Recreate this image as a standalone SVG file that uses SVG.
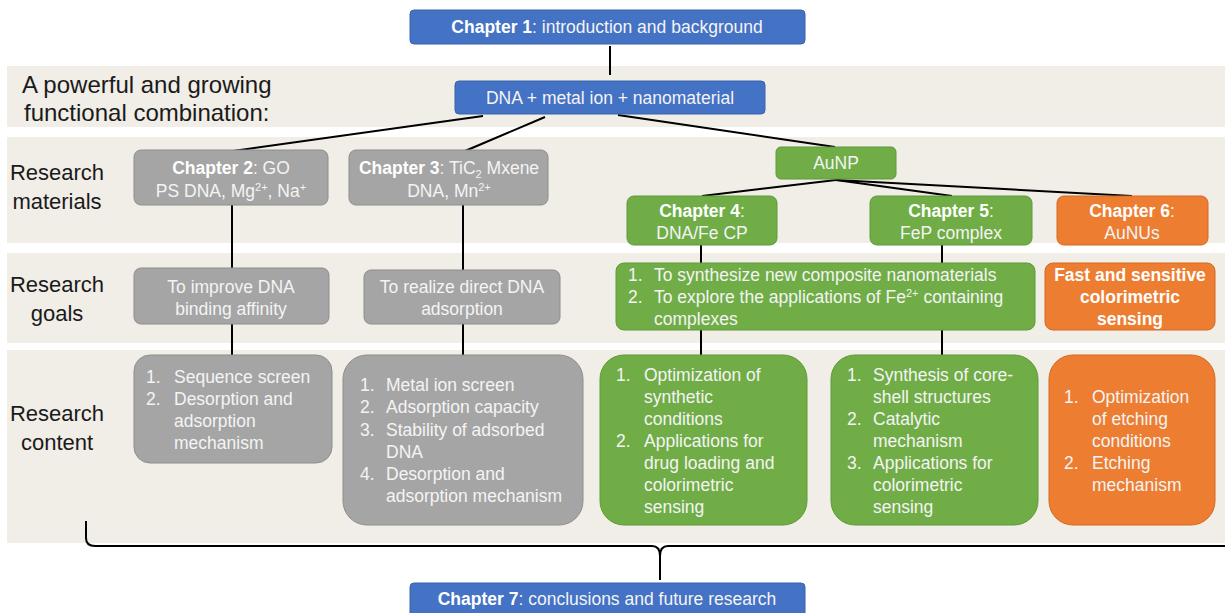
<svg xmlns="http://www.w3.org/2000/svg" width="1225" height="613" viewBox="0 0 1225 613">
<style>
text{font-family:"Liberation Sans","Noto Sans",Arial,sans-serif;}
.band{fill:#F1EDE7;}
.lbl{font-size:22px;fill:#1a1a1a;}
.big{font-size:24px;}
.bt{font-size:17.5px;fill:#F4F4F4;}
.b{font-weight:bold;fill:#FFFFFF;}
.blue{fill:#4472C4;stroke:#3A63AD;stroke-width:1;}
.gray{fill:#A5A5A5;stroke:#8E8E8E;stroke-width:1;}
.green{fill:#70AD47;stroke:#5E9A38;stroke-width:1;}
.orange{fill:#ED7D31;stroke:#D46A22;stroke-width:1;}
.ln{stroke:#000;stroke-width:2;fill:none;}
.sup{font-size:11px;}
</style>
<rect width="1225" height="613" fill="#FFFFFF"/>
<g id="bands">
<rect class="band" x="7" y="66" width="1218" height="61"/>
<rect class="band" x="7" y="137" width="1218" height="106"/>
<rect class="band" x="7" y="253" width="1218" height="90"/>
<rect class="band" x="7" y="350" width="1218" height="193"/>
</g>
<g id="row-labels">
<text class="lbl big" x="22" y="93">A powerful and growing</text>
<text class="lbl big" x="24" y="121">functional combination:</text>
<text class="lbl" x="57" y="180" text-anchor="middle">Research</text>
<text class="lbl" x="57" y="209" text-anchor="middle">materials</text>
<text class="lbl" x="57" y="292" text-anchor="middle">Research</text>
<text class="lbl" x="57" y="321" text-anchor="middle">goals</text>
<text class="lbl" x="57" y="421" text-anchor="middle">Research</text>
<text class="lbl" x="57" y="450" text-anchor="middle">content</text>
</g>
<g id="connectors">
<line class="ln" x1="610" y1="46" x2="610" y2="75"/>
<line class="ln" x1="483" y1="116" x2="233" y2="151"/>
<line class="ln" x1="545" y1="117" x2="465" y2="151"/>
<line class="ln" x1="618" y1="115" x2="835" y2="147"/>
<line class="ln" x1="836" y1="180" x2="702" y2="196"/>
<line class="ln" x1="836" y1="180" x2="952" y2="196"/>
<line class="ln" x1="836" y1="180" x2="1132" y2="196"/>
<line class="ln" x1="232" y1="205" x2="232" y2="268"/>
<line class="ln" x1="463" y1="205" x2="463" y2="270"/>
<line class="ln" x1="701" y1="245" x2="701" y2="263"/>
<line class="ln" x1="942" y1="245" x2="942" y2="263"/>
<line class="ln" x1="232" y1="324" x2="232" y2="355"/>
<line class="ln" x1="463" y1="324" x2="463" y2="355"/>
<line class="ln" x1="701" y1="330" x2="701" y2="355"/>
<line class="ln" x1="942" y1="330" x2="942" y2="355"/>
<path class="ln" d="M86 521 V538 Q86 546 95 546 H652 Q660 546 660 556 V580 M660 556 Q660 546 668 546 H1226"/>
</g>
<g id="ch1">
<rect class="blue" x="410" y="10" width="395" height="34" rx="4"/>
<text class="bt" x="607" y="33" text-anchor="middle"><tspan class="b">Chapter 1</tspan>: introduction and background</text>
</g>
<g id="combo">
<rect class="blue" x="455" y="81" width="310" height="33" rx="4"/>
<text class="bt" x="610" y="104" text-anchor="middle">DNA + metal ion + nanomaterial</text>
</g>
<g id="ch2">
<rect class="gray" x="134" y="150" width="194" height="55" rx="7"/>
<text class="bt" x="231" y="174" text-anchor="middle"><tspan class="b">Chapter 2</tspan>: GO</text>
<text class="bt" x="231" y="197" text-anchor="middle">PS DNA, Mg<tspan class="sup" dy="-6">2+</tspan><tspan dy="6">, Na</tspan><tspan class="sup" dy="-6">+</tspan></text>
</g>
<g id="ch3">
<rect class="gray" x="349" y="150" width="199" height="55" rx="7"/>
<text class="bt" x="449" y="174" text-anchor="middle"><tspan class="b">Chapter 3</tspan>: TiC<tspan class="sup" dy="4">2</tspan><tspan dy="-4"> Mxene</tspan></text>
<text class="bt" x="449" y="197" text-anchor="middle">DNA, Mn<tspan class="sup" dy="-6">2+</tspan></text>
</g>
<g id="aunp">
<rect class="green" x="776" y="147" width="120" height="32" rx="5"/>
<text class="bt" x="836" y="169" text-anchor="middle">AuNP</text>
</g>
<g id="ch4">
<rect class="green" x="627" y="196" width="150" height="49" rx="7"/>
<text class="bt" x="702" y="217" text-anchor="middle"><tspan class="b">Chapter 4</tspan>:</text>
<text class="bt" x="702" y="239" text-anchor="middle">DNA/Fe CP</text>
</g>
<g id="ch5">
<rect class="green" x="870" y="196" width="162" height="49" rx="7"/>
<text class="bt" x="951" y="217" text-anchor="middle"><tspan class="b">Chapter 5</tspan>:</text>
<text class="bt" x="951" y="239" text-anchor="middle">FeP complex</text>
</g>
<g id="ch6">
<rect class="orange" x="1057" y="196" width="151" height="49" rx="7"/>
<text class="bt" x="1132" y="217" text-anchor="middle"><tspan class="b">Chapter 6</tspan>:</text>
<text class="bt" x="1132" y="239" text-anchor="middle">AuNUs</text>
</g>
<g id="goal2">
<rect class="gray" x="134" y="268" width="195" height="56" rx="7"/>
<text class="bt" x="231" y="293" text-anchor="middle">To improve DNA</text>
<text class="bt" x="231" y="315" text-anchor="middle">binding affinity</text>
</g>
<g id="goal3">
<rect class="gray" x="364" y="270" width="196" height="54" rx="7"/>
<text class="bt" x="462" y="293" text-anchor="middle">To realize direct DNA</text>
<text class="bt" x="462" y="315" text-anchor="middle">adsorption</text>
</g>
<g id="goal45">
<rect class="green" x="616" y="263" width="419" height="67" rx="8"/>
<text class="bt" x="628" y="281">1.</text>
<text class="bt" x="654" y="281">To synthesize new composite nanomaterials</text>
<text class="bt" x="628" y="303">2.</text>
<text class="bt" x="654" y="303">To explore the applications of Fe<tspan class="sup" dy="-6">2+</tspan><tspan dy="6"> containing</tspan></text>
<text class="bt" x="654" y="325">complexes</text>
</g>
<g id="goal6">
<rect class="orange" x="1045" y="263" width="170" height="67" rx="8"/>
<text class="bt b" x="1130" y="281" text-anchor="middle">Fast and sensitive</text>
<text class="bt b" x="1130" y="303" text-anchor="middle">colorimetric</text>
<text class="bt b" x="1130" y="325" text-anchor="middle">sensing</text>
</g>
<g id="content2">
<rect class="gray" x="134" y="355" width="198" height="108" rx="16"/>
<text class="bt" x="146" y="383">1.</text>
<text class="bt" x="174" y="383">Sequence screen</text>
<text class="bt" x="146" y="405">2.</text>
<text class="bt" x="174" y="405">Desorption and</text>
<text class="bt" x="174" y="427">adsorption</text>
<text class="bt" x="174" y="449">mechanism</text>
</g>
<g id="content3">
<rect class="gray" x="343" y="355" width="240" height="170" rx="24"/>
<text class="bt" x="360" y="391">1.</text>
<text class="bt" x="386" y="391">Metal ion screen</text>
<text class="bt" x="360" y="413">2.</text>
<text class="bt" x="386" y="413">Adsorption capacity</text>
<text class="bt" x="360" y="436">3.</text>
<text class="bt" x="386" y="436">Stability of adsorbed</text>
<text class="bt" x="386" y="458">DNA</text>
<text class="bt" x="360" y="480">4.</text>
<text class="bt" x="386" y="480">Desorption and</text>
<text class="bt" x="386" y="502">adsorption mechanism</text>
</g>
<g id="content4">
<rect class="green" x="600" y="355" width="207" height="170" rx="24"/>
<text class="bt" x="616" y="381">1.</text>
<text class="bt" x="644" y="381">Optimization of</text>
<text class="bt" x="644" y="403">synthetic</text>
<text class="bt" x="644" y="425">conditions</text>
<text class="bt" x="616" y="447">2.</text>
<text class="bt" x="644" y="447">Applications for</text>
<text class="bt" x="644" y="469">drug loading and</text>
<text class="bt" x="644" y="491">colorimetric</text>
<text class="bt" x="644" y="513">sensing</text>
</g>
<g id="content5">
<rect class="green" x="831" y="355" width="207" height="170" rx="24"/>
<text class="bt" x="847" y="381">1.</text>
<text class="bt" x="873" y="381">Synthesis of core-</text>
<text class="bt" x="873" y="403">shell structures</text>
<text class="bt" x="847" y="425">2.</text>
<text class="bt" x="873" y="425">Catalytic</text>
<text class="bt" x="873" y="447">mechanism</text>
<text class="bt" x="847" y="469">3.</text>
<text class="bt" x="873" y="469">Applications for</text>
<text class="bt" x="873" y="491">colorimetric</text>
<text class="bt" x="873" y="513">sensing</text>
</g>
<g id="content6">
<rect class="orange" x="1049" y="355" width="166" height="170" rx="24"/>
<text class="bt" x="1064" y="403">1.</text>
<text class="bt" x="1092" y="403">Optimization</text>
<text class="bt" x="1092" y="425">of etching</text>
<text class="bt" x="1092" y="447">conditions</text>
<text class="bt" x="1064" y="469">2.</text>
<text class="bt" x="1092" y="469">Etching</text>
<text class="bt" x="1092" y="491">mechanism</text>
</g>
<g id="ch7">
<rect class="blue" x="410" y="583" width="395" height="40" rx="4"/>
<text class="bt" x="607" y="605" text-anchor="middle"><tspan class="b">Chapter 7</tspan>: conclusions and future research</text>
</g>
</svg>
